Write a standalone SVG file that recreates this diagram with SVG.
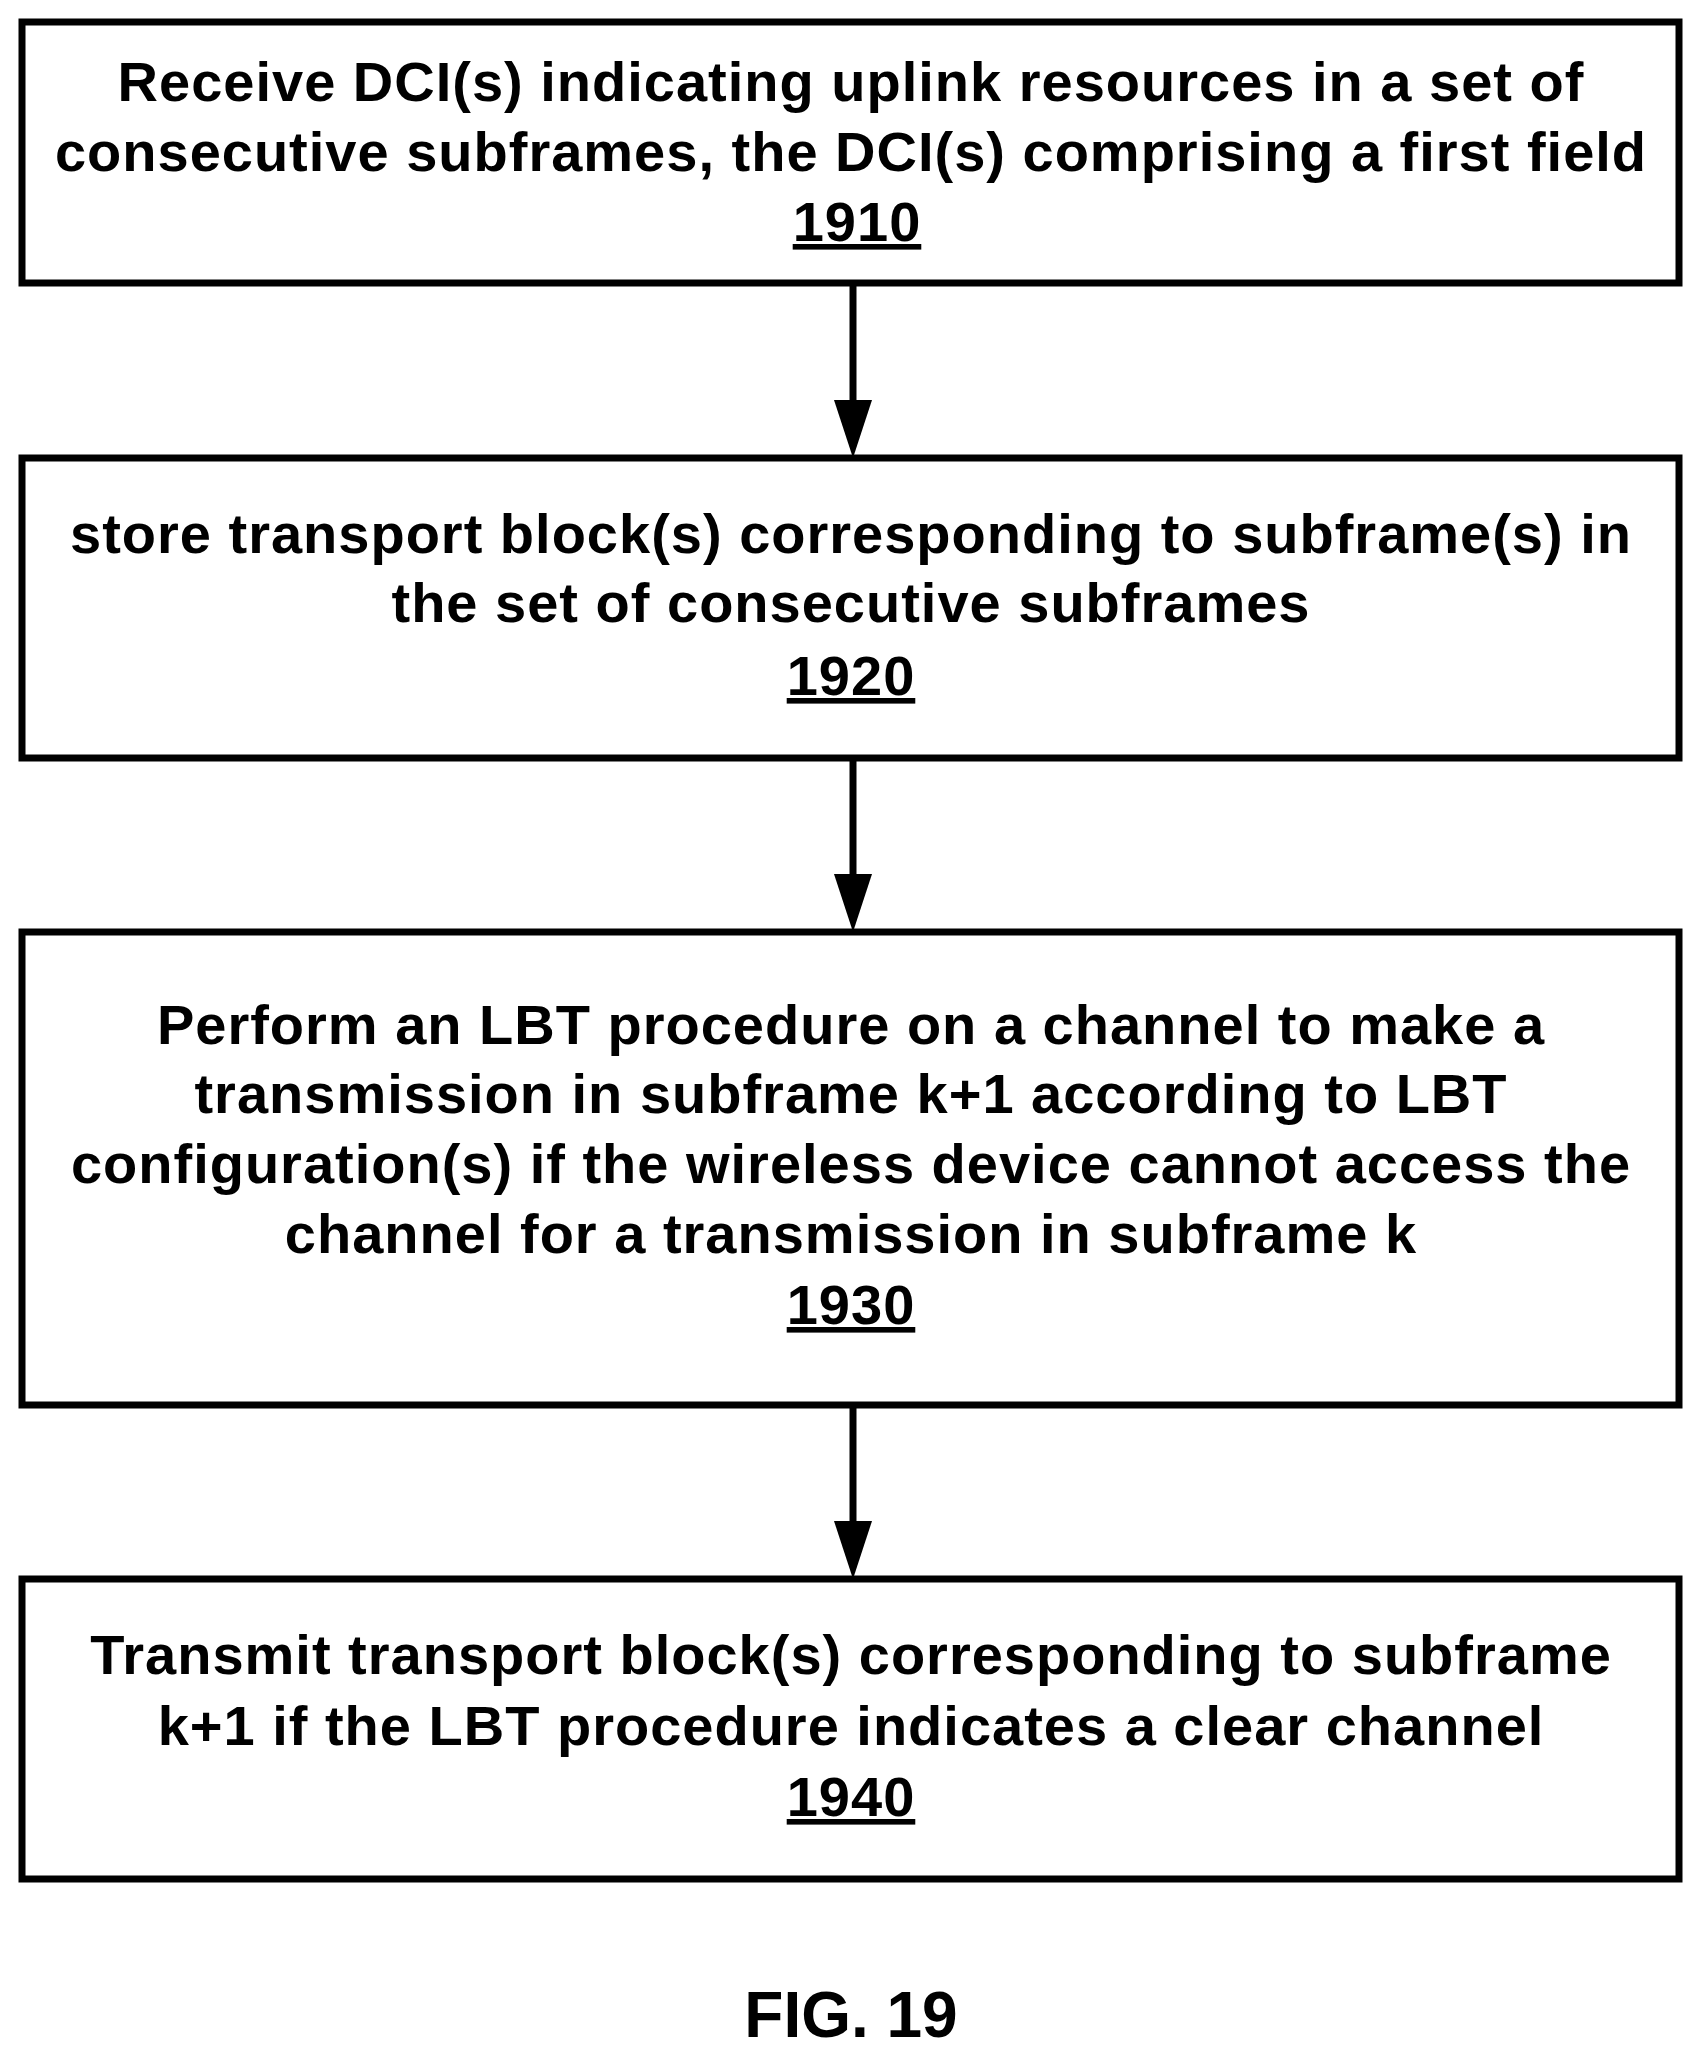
<svg xmlns="http://www.w3.org/2000/svg" width="1703" height="2065" viewBox="0 0 1703 2065">
<style>
.b{fill:#fff;stroke:#000;stroke-width:7}
.t{font-family:"Liberation Sans",Arial,sans-serif;font-weight:bold;font-size:56px;letter-spacing:1px;text-anchor:middle;fill:#000}
.u{text-decoration:underline}
.c{stroke:#000;stroke-width:7;fill:none}
</style>
<rect width="1703" height="2065" fill="#fff"/>
<g id="connectors">
<line class="c" x1="853" y1="283" x2="853" y2="410"/><polygon points="834,400 872,400 853,458"/>
<line class="c" x1="853" y1="758" x2="853" y2="884"/><polygon points="834,874 872,874 853,932"/>
<line class="c" x1="853" y1="1405" x2="853" y2="1531"/><polygon points="834,1521 872,1521 853,1579"/>
</g>
<g id="n1910"><rect class="b" x="22" y="22" width="1657" height="261"/>
<text class="t" x="851" y="101">Receive DCI(s) indicating uplink resources in a set of</text>
<text class="t" x="851" y="171">consecutive subframes, the DCI(s) comprising a first field</text>
<text class="t u" x="857" y="241">1910</text></g>
<g id="n1920"><rect class="b" x="22" y="458" width="1657" height="300"/>
<text class="t" x="851" y="553">store transport block(s) corresponding to subframe(s) in</text>
<text class="t" x="851" y="622">the set of consecutive subframes</text>
<text class="t u" x="851" y="695">1920</text></g>
<g id="n1930"><rect class="b" x="22" y="932" width="1657" height="473"/>
<text class="t" x="851" y="1044">Perform an LBT procedure on a channel to make a</text>
<text class="t" x="851" y="1113">transmission in subframe k+1 according to LBT</text>
<text class="t" x="851" y="1183">configuration(s) if the wireless device cannot access the</text>
<text class="t" x="851" y="1253">channel for a transmission in subframe k</text>
<text class="t u" x="851" y="1324">1930</text></g>
<g id="n1940"><rect class="b" x="22" y="1579" width="1657" height="300"/>
<text class="t" x="851" y="1674">Transmit transport block(s) corresponding to subframe</text>
<text class="t" x="851" y="1745">k+1 if the LBT procedure indicates a clear channel</text>
<text class="t u" x="851" y="1816">1940</text></g>
<text class="t" x="851" y="2037" style="font-size:64px;letter-spacing:0">FIG. 19</text>
</svg>
